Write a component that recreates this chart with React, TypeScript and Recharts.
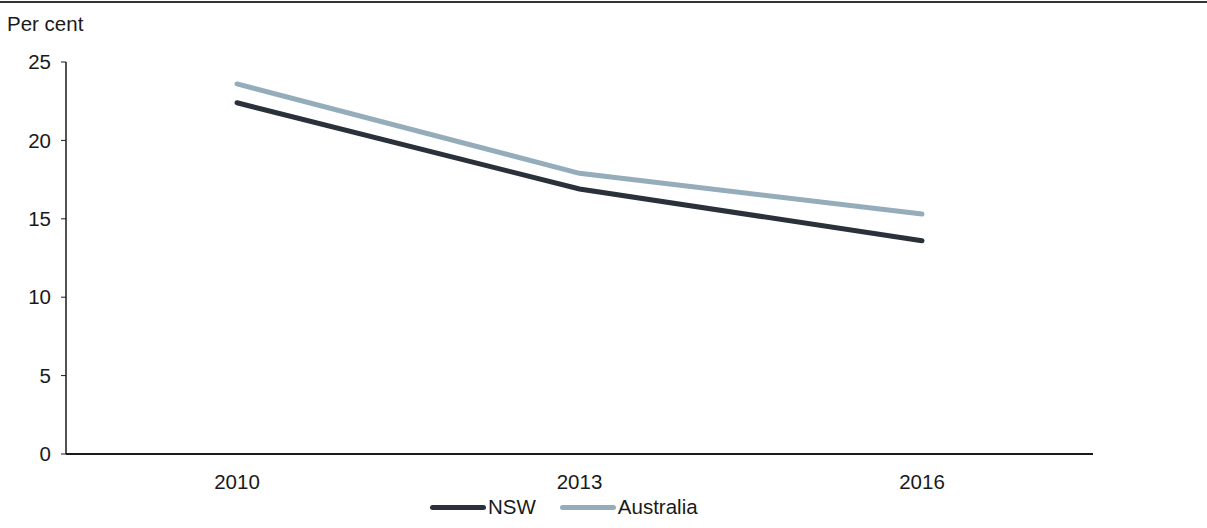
import { LineChart, Line, XAxis, YAxis } from 'recharts';

const years = ['2010', '2013', '2016'];
const nsw = [22.4, 16.9, 13.6];
const australia = [23.6, 17.9, 15.3];
const yTicks = [0, 5, 10, 15, 20, 25];

const series = [
  { key: 'nsw', name: 'NSW', color: '#2a313a' },
  { key: 'australia', name: 'Australia', color: '#95adba' },
];

const data = years.map((year, i) => ({ year, nsw: nsw[i], australia: australia[i] }));

const FONT = '"Liberation Sans", Arial, sans-serif';
const INK = '#1a1a1a';
const FONT_SIZE = 20.5;

function LineLegend() {
  return (
    <div
      style={{
        position: 'absolute',
        top: 495,
        left: 430,
        display: 'flex',
        alignItems: 'center',
        fontFamily: FONT,
        fontSize: FONT_SIZE,
        color: INK,
      }}
    >
      {series.map((s) => (
        <div key={s.key} style={{ display: 'flex', alignItems: 'center', marginRight: 24 }}>
          <span
            style={{
              display: 'inline-block',
              width: 56,
              height: 5,
              borderRadius: 3,
              background: s.color,
            }}
          />
          <span style={{ marginLeft: 2 }}>{s.name}</span>
        </div>
      ))}
    </div>
  );
}

export default function App() {
  return (
    <div style={{ position: 'absolute', top: 0, left: 0, width: 1207, height: 528, background: '#fff' }}>
      <div style={{ position: 'absolute', top: 1, left: 0, width: 1207, height: 2, background: '#333' }} />
      <div
        style={{
          position: 'absolute',
          top: 12,
          left: 7,
          fontFamily: FONT,
          fontSize: FONT_SIZE,
          color: INK,
        }}
      >
        Per cent
      </div>
      <LineChart width={1207} height={528} data={data} margin={{ top: 62, right: 114, bottom: 34, left: 0 }}>
        <XAxis
          dataKey="year"
          padding={{ left: 171, right: 171 }}
          axisLine={{ stroke: INK, strokeWidth: 2 }}
          tickLine={false}
          tickSize={6}
          tickMargin={14}
          height={40}
          tick={{ fill: INK, fontSize: FONT_SIZE, fontFamily: FONT }}
        />
        <YAxis
          domain={[0, 25]}
          ticks={yTicks}
          width={66}
          axisLine={{ stroke: INK, strokeWidth: 1.5 }}
          tickLine={{ stroke: INK }}
          tickSize={5}
          tickMargin={10}
          tick={{ fill: INK, fontSize: FONT_SIZE, fontFamily: FONT }}
        />
        {series.map((s) => (
          <Line
            key={s.key}
            type="linear"
            dataKey={s.key}
            name={s.name}
            stroke={s.color}
            strokeWidth={5}
            strokeLinecap="round"
            dot={false}
            activeDot={false}
            isAnimationActive={false}
          />
        ))}
      </LineChart>
      <LineLegend />
    </div>
  );
}
